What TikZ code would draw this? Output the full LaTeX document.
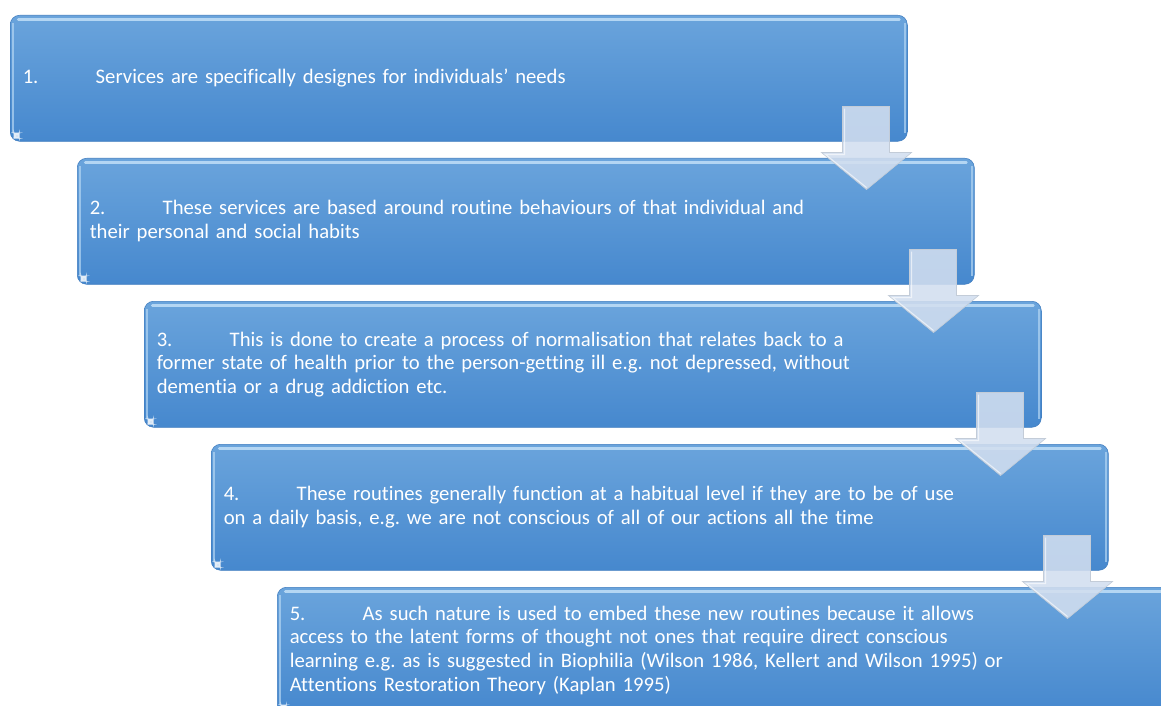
\documentclass[tikz,border=0pt]{standalone}
\usepackage{fontspec}
\setmainfont{Carlito}[Ligatures=NoCommon]

\definecolor{boxtop}{HTML}{6AA4DC}
\definecolor{boxbot}{HTML}{4688CE}
\definecolor{boxrim}{HTML}{3F7CBF}
\definecolor{shine}{HTML}{B4D6F3}
\definecolor{arrowfill}{HTML}{D2DEEF}
\definecolor{arrowedge}{HTML}{C3CCD8}

\newcommand{\numtab}[1]{\makebox[54.75pt][l]{#1}}

\tikzset{
  stepbox/.style={rounded corners=7pt, anchor=north west,
    minimum width=672.75pt, minimum height=94.5pt,
    text width=654pt, inner xsep=9pt, align=left,
    text=white, font=\fontsize{15.5}{17.7}\selectfont\frenchspacing,
    top color=boxtop, bottom color=boxbot, draw=boxrim, line width=0.4pt,
    path picture={
      \draw[shine, line width=2.2pt, line cap=round]
        ([shift={(6pt,-3.5pt)}]path picture bounding box.north west) --
        ([shift={(-6pt,-3.5pt)}]path picture bounding box.north east);
      \draw[shine, line width=1.6pt, opacity=0.7]
        ([shift={(2pt,-6pt)}]path picture bounding box.north west) --
        ([shift={(2pt,6pt)}]path picture bounding box.south west);
      \draw[shine, line width=1.6pt, opacity=0.7]
        ([shift={(-2pt,-6pt)}]path picture bounding box.north east) --
        ([shift={(-2pt,6pt)}]path picture bounding box.south east);
      \fill[white, opacity=0.85]
        ([shift={(2.5pt,2pt)}]path picture bounding box.south west) rectangle ++(4.5pt,4.5pt);
    }},
  downarrow/.style={fill=arrowfill, fill opacity=0.88, draw=arrowedge, line width=0.5pt}
}

\begin{document}
\begin{tikzpicture}[x=0.75pt, y=-0.75pt]
  \useasboundingbox (0,0) rectangle (1161,706);
  \clip (0,0) rectangle (1161,706);

  % Steps
  \node[stepbox] (b1) at (10,15)
    {\numtab{1.}Services are specifically designes for individuals’ needs};
  \node[stepbox] (b2) at (77,158)
    {\numtab{2.}These services are based around routine behaviours of that individual and\\
     their personal and social habits};
  \node[stepbox] (b3) at (144,301)
    {\numtab{3.}This is done to create a process of normalisation that relates back to a\\
     former state of health prior to the person-getting ill e.g. not depressed, without\\
     dementia or a drug addiction etc.};
  \node[stepbox] (b4) at (211,444)
    {\numtab{4.}These routines generally function at a habitual level if they are to be of use\\
     on a daily basis, e.g. we are not conscious of all of our actions all the time};
  \node[stepbox] (b5) at (277,587)
    {\numtab{5.}As such nature is used to embed these new routines because it allows\\
     access to the latent forms of thought not ones that require direct conscious\\
     learning e.g. as is suggested in Biophilia (Wilson 1986, Kellert and Wilson 1995) or\\
     Attentions Restoration Theory (Kaplan 1995)};

  % Down arrows between the steps
  \foreach \b in {b1,b2,b3,b4} {
    \begin{scope}[shift={(\b.south east)}]
      \draw[downarrow] (-65,-35) -- (-18,-35) -- (-18,11) -- (4,11)
        -- (-41,48) -- (-86,11) -- (-65,11) -- cycle;
      \draw[white, opacity=0.6, line width=0.8pt] (-63,-33) -- (-63,13) -- (-82,13) -- (-41,46);
    \end{scope}
  }
\end{tikzpicture}
\end{document}
